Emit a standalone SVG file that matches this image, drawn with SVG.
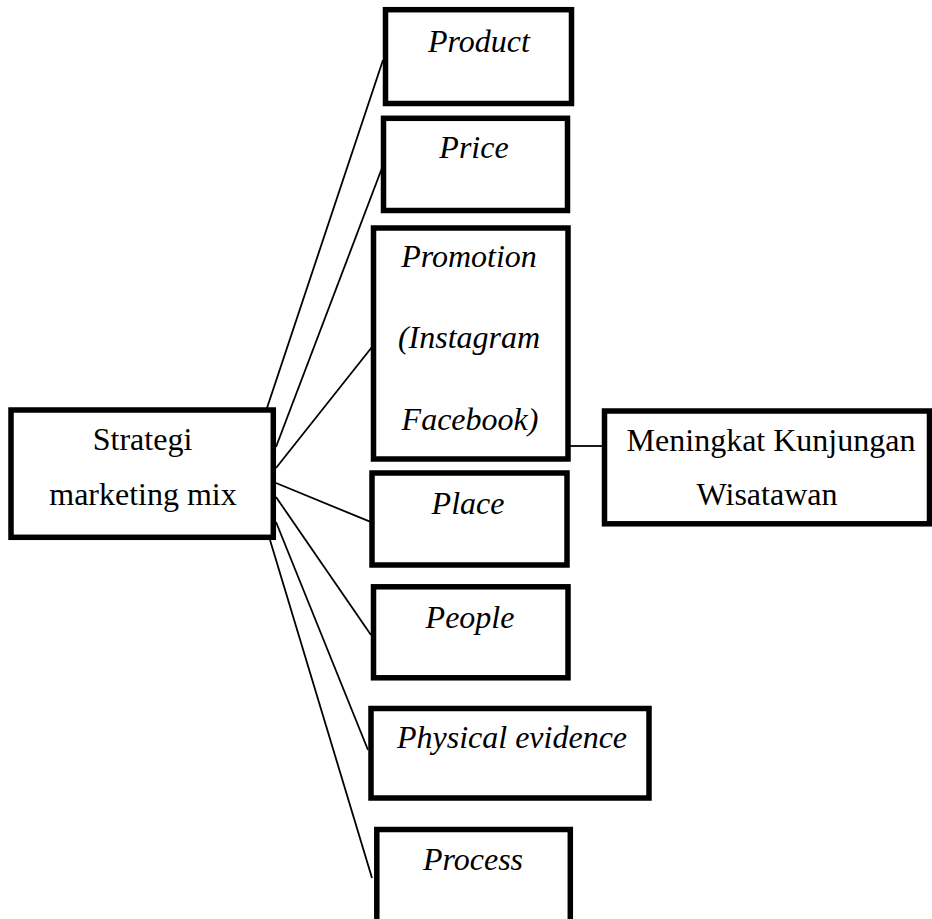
<svg xmlns="http://www.w3.org/2000/svg" width="932" height="919" viewBox="0 0 932 919">
<style>
.box{fill:#fff;stroke:#000;stroke-width:5.5}
.lbl{font-family:"Liberation Serif","Times New Roman",serif;font-size:32px;fill:#000;text-anchor:middle}
.it{font-style:italic}
.con{stroke:#000;stroke-width:1.8;fill:none}
</style>
<rect width="932" height="919" fill="#fff"/>
<g id="connectors">
<line class="con" x1="265" y1="414" x2="383" y2="60"/>
<line class="con" x1="276" y1="447" x2="382" y2="168"/>
<line class="con" x1="276" y1="468" x2="372" y2="347"/>
<line class="con" x1="276" y1="483" x2="370" y2="521.7"/>
<line class="con" x1="276" y1="497" x2="371" y2="635"/>
<line class="con" x1="276" y1="522" x2="368" y2="750"/>
<line class="con" x1="270" y1="540" x2="372" y2="878"/>
<line class="con" x1="570" y1="446" x2="602" y2="446"/>
</g>
<g id="product">
<rect class="box" x="385.5" y="9.7" width="186" height="93.8"/>
<text class="lbl it" x="479" y="52">Product</text>
</g>
<g id="price">
<rect class="box" x="383.5" y="118.3" width="184" height="92.2"/>
<text class="lbl it" x="474" y="158">Price</text>
</g>
<g id="promotion">
<rect class="box" x="373.5" y="228" width="194.5" height="231"/>
<text class="lbl it" x="469" y="267">Promotion</text>
<text class="lbl it" x="469" y="348">(Instagram</text>
<text class="lbl it" x="470" y="430">Facebook)</text>
</g>
<g id="place">
<rect class="box" x="372" y="473" width="195" height="92"/>
<text class="lbl it" x="468" y="514">Place</text>
</g>
<g id="people">
<rect class="box" x="373.5" y="586.8" width="194.5" height="91"/>
<text class="lbl it" x="470" y="628">People</text>
</g>
<g id="physical-evidence">
<rect class="box" x="371" y="708.5" width="278" height="89.5"/>
<text class="lbl it" x="512" y="748">Physical evidence</text>
</g>
<g id="process">
<rect class="box" x="376.8" y="829.5" width="193.5" height="100"/>
<text class="lbl it" x="473" y="870">Process</text>
</g>
<g id="strategi">
<rect class="box" x="11" y="410" width="262.3" height="127.3"/>
<text class="lbl" x="142.5" y="450">Strategi</text>
<text class="lbl" x="143" y="505">marketing mix</text>
</g>
<g id="meningkat">
<rect class="box" x="604.5" y="411" width="325" height="112.8"/>
<text class="lbl" x="771" y="451">Meningkat Kunjungan</text>
<text class="lbl" x="767" y="505">Wisatawan</text>
</g>
</svg>
